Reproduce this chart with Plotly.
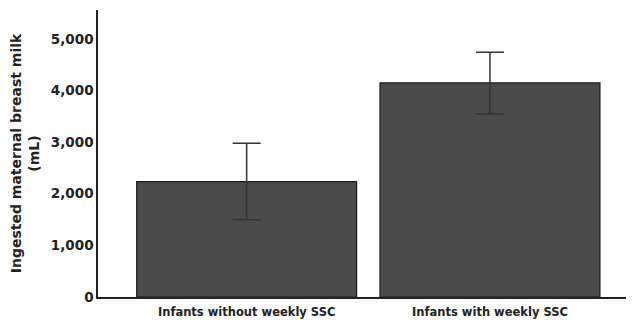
import plotly.graph_objects as go

categories = ["Infants without weekly SSC", "Infants with weekly SSC"]
means = [2234, 4147]
err_plus = [745, 595]
err_minus = [736, 600]
y_ticks = [0, 1000, 2000, 3000, 4000, 5000]
y_tick_labels = ["0", "1,000", "2,000", "3,000", "4,000", "5,000"]

fig = go.Figure()
fig.add_trace(go.Bar(
    x=[0, 1], y=means,
    marker=dict(color="#4b4b4b", line=dict(color="#1a1a1a", width=1.2)),
    error_y=dict(type="data", symmetric=False, array=err_plus, arrayminus=err_minus,
                 color="#333333", thickness=1.5, width=14),
))

# page body has an 8px margin, so the figure is sized to fit the window
fig.update_layout(
    width=626, height=312,
    margin=dict(l=90, r=0, t=2, b=23),
    plot_bgcolor="white", paper_bgcolor="white",
    bargap=0.096,
    showlegend=False,
    font=dict(family="DejaVu Sans", color="#222222", size=12),
)
fig.update_xaxes(
    range=[-0.611, 1.592],
    tickvals=[0, 1], ticktext=categories,
    showline=True, linecolor="#222222", linewidth=1.5,
    ticks="", showgrid=False, zeroline=False,
    ticklabelstandoff=3,
    tickfont=dict(size=11.5, family="DejaVu Sans", weight="bold"),
)
fig.update_yaxes(
    range=[0, 5560],
    tickvals=y_ticks, ticktext=y_tick_labels,
    showline=True, linecolor="#222222", linewidth=1.5,
    ticks="", showgrid=False, zeroline=False,
    tickfont=dict(size=13.5, family="DejaVu Sans", weight="bold"),
    title=dict(text="Ingested maternal breast milk<br>(mL)", standoff=12,
               font=dict(size=14, family="DejaVu Sans", weight="bold")),
)

fig.write_html("out.html")
